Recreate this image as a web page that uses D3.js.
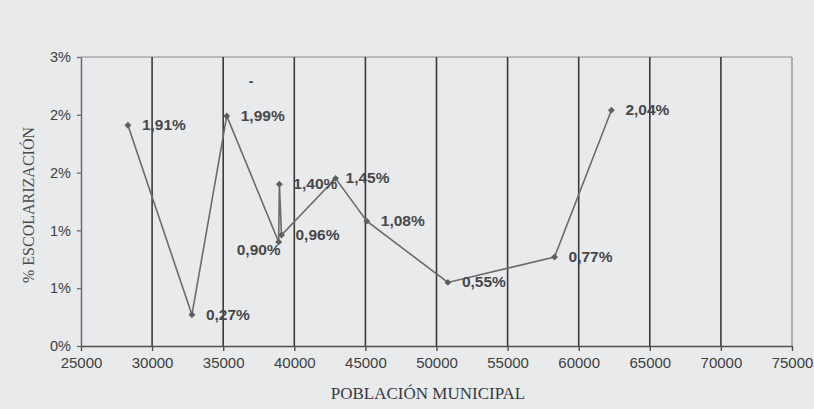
<!DOCTYPE html>
<html>
<head>
<meta charset="utf-8">
<script src="https://cdn.jsdelivr.net/npm/d3@7"></script>
<style>
  html, body { margin: 0; padding: 0; background: #e9eaec; }
  #chart { width: 814px; height: 409px; }
</style>
</head>
<body>
<div id="chart"></div>
<script>
// datos
const poblacion = [28300, 32800, 35250, 38900, 38950, 39100, 42900, 45100, 50800, 58300, 62300];
const escolarizacion = [1.91, 0.27, 1.99, 0.90, 1.40, 0.96, 1.45, 1.08, 0.55, 0.77, 2.04];
const etiquetas = ["1,91%", "0,27%", "1,99%", "0,90%", "1,40%", "0,96%", "1,45%", "1,08%", "0,55%", "0,77%", "2,04%"];

const xTicks = [25000, 30000, 35000, 40000, 45000, 50000, 55000, 60000, 65000, 70000, 75000];
const yTicks = [0, 0.5, 1, 1.5, 2, 2.5];
const yTickLabels = ["0%", "1%", "1%", "2%", "2%", "3%"];

const width = 814;
const height = 409;
const marginTop = 57;
const marginRight = 22;
const marginBottom = 63;
const marginLeft = 81;

// label placement (which side of the marker)
const labelSide = ["r", "r", "r", "bl", "r", "r", "r2", "r", "r", "r", "r"];

const x = d3.scaleLinear()
  .domain([25000, 75000])
  .range([marginLeft, width - marginRight]);

const y = d3.scaleLinear()
  .domain([0, 2.5])
  .range([height - marginBottom, marginTop]);

const data = poblacion.map((p, i) => ({ p, v: escolarizacion[i], label: etiquetas[i], side: labelSide[i] }));

const svg = d3.select("#chart")
  .append("svg")
  .attr("width", width)
  .attr("height", height)
  .style("font-family", "Arial, 'Liberation Sans', sans-serif");

svg.append("rect")
  .attr("width", width)
  .attr("height", height)
  .attr("fill", "#e9eaec");

// plot frame: top and right light
svg.append("line")
  .attr("x1", x(25000)).attr("x2", x(75000))
  .attr("y1", y(2.5)).attr("y2", y(2.5))
  .attr("stroke", "#8a8a8a")
  .attr("stroke-width", 1.2);

svg.append("line")
  .attr("x1", x(75000)).attr("x2", x(75000))
  .attr("y1", y(2.5)).attr("y2", y(0))
  .attr("stroke", "#8c8c8c")
  .attr("stroke-width", 1.3);

// vertical grid lines
svg.append("g")
  .selectAll("line")
  .data(xTicks.slice(1, -1))
  .join("line")
  .attr("x1", d => x(d)).attr("x2", d => x(d))
  .attr("y1", y(2.5)).attr("y2", y(0))
  .attr("stroke", "#3a3a3c")
  .attr("stroke-width", 1.6);

// x axis
const xAxis = svg.append("g")
  .attr("transform", `translate(0,${y(0)})`)
  .call(d3.axisBottom(x).tickValues(xTicks).tickFormat(d3.format("d")).tickSize(5).tickSizeOuter(0));
xAxis.select(".domain").attr("stroke", "#505052").attr("stroke-width", 1.5);
xAxis.selectAll(".tick line").attr("stroke", "#505052").attr("stroke-width", 1.4);
xAxis.selectAll(".tick text")
  .attr("dy", "0.9em")
  .attr("fill", "#3e3e40")
  .style("font-size", "15px");

// y axis
const yAxis = svg.append("g")
  .attr("transform", `translate(${x(25000)},0)`)
  .call(d3.axisLeft(y).tickValues(yTicks).tickFormat((d, i) => yTickLabels[i]).tickSize(4).tickSizeOuter(0));
yAxis.select(".domain").attr("stroke", "#6a6a6c").attr("stroke-width", 1.5);
yAxis.selectAll(".tick line").attr("stroke", "#6a6a6c").attr("stroke-width", 1.3);
yAxis.selectAll(".tick text")
  .attr("x", -10)
  .attr("fill", "#3e3e40")
  .style("font-size", "14.5px");

// series line
const line = d3.line()
  .x(d => x(d.p))
  .y(d => y(d.v));

svg.append("path")
  .datum(data)
  .attr("fill", "none")
  .attr("stroke", "#6b6b6d")
  .attr("stroke-width", 1.6)
  .attr("d", line);

// diamond markers
svg.append("g")
  .selectAll("path")
  .data(data)
  .join("path")
  .attr("transform", d => `translate(${x(d.p)},${y(d.v)})`)
  .attr("d", d3.symbol(d3.symbolDiamond2, 30))
  .attr("fill", "#5f5f61");

// data labels
svg.append("g")
  .selectAll("text")
  .data(data)
  .join("text")
  .attr("x", d => x(d.p) + (d.side === "bl" ? 2 : d.side === "r2" ? 10 : 14))
  .attr("y", d => y(d.v) + (d.side === "bl" ? 13 : 5))
  .attr("text-anchor", d => d.side === "bl" ? "end" : "start")
  .attr("fill", "#47474a")
  .style("font-size", "15.5px")
  .style("font-weight", "bold")
  .text(d => d.label);

// stray mark
svg.append("text")
  .attr("x", x(36800))
  .attr("y", y(2.25))
  .attr("fill", "#47474a")
  .style("font-size", "14px")
  .style("font-weight", "bold")
  .text("-");

// axis titles
svg.append("text")
  .attr("x", 428)
  .attr("y", 399)
  .attr("text-anchor", "middle")
  .attr("fill", "#3a3a3c")
  .style("font-family", "'Liberation Serif', 'Times New Roman', serif")
  .style("font-size", "17px")
  .text("POBLACIÓN MUNICIPAL");

svg.append("text")
  .attr("transform", `translate(34,205) rotate(-90)`)
  .attr("text-anchor", "middle")
  .attr("fill", "#4a4a4c")
  .style("font-family", "'Liberation Serif', 'Times New Roman', serif")
  .style("font-size", "16px")
  .text("% ESCOLARIZACIÓN");
</script>
</body>
</html>
